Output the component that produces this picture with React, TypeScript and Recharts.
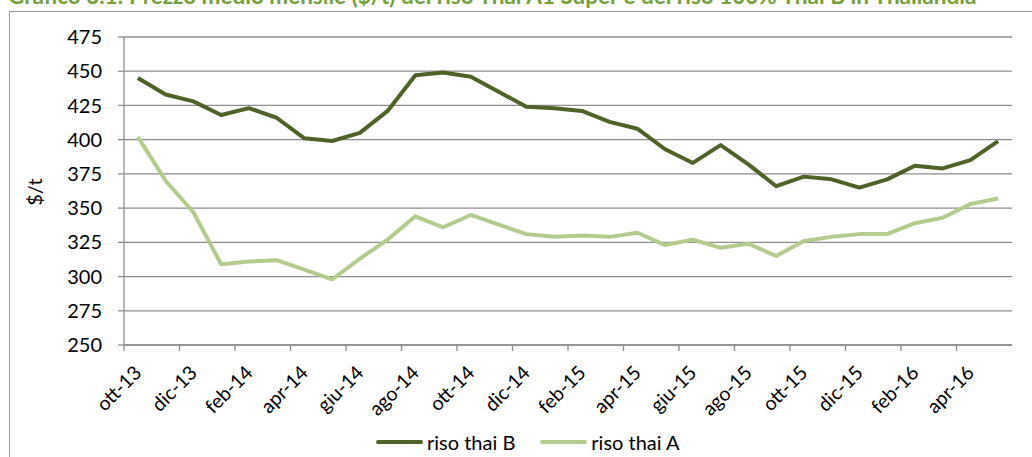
import React from "react";
import {
  LineChart,
  Line,
  XAxis,
  YAxis,
  CartesianGrid,
  Legend,
} from "recharts";

const months = [
  "ott-13", "nov-13", "dic-13", "gen-14", "feb-14", "mar-14", "apr-14", "mag-14",
  "giu-14", "lug-14", "ago-14", "set-14", "ott-14", "nov-14", "dic-14", "gen-15",
  "feb-15", "mar-15", "apr-15", "mag-15", "giu-15", "lug-15", "ago-15", "set-15",
  "ott-15", "nov-15", "dic-15", "gen-16", "feb-16", "mar-16", "apr-16", "mag-16",
];

const thaiB = [
  445, 433, 428, 418, 423, 416, 401, 399, 405, 421, 447, 449, 446, 435, 424, 423,
  421, 413, 408, 393, 383, 396, 382, 366, 373, 371, 365, 371, 381, 379, 385, 399,
];

const thaiA = [
  402, 370, 347, 309, 311, 312, 305, 298, 313, 327, 344, 336, 345, 338, 331, 329,
  330, 329, 332, 323, 327, 321, 324, 315, 326, 329, 331, 331, 339, 343, 353, 357,
];

const yTicks = [250, 275, 300, 325, 350, 375, 400, 425, 450, 475];

const TITLE =
  "Grafico 3.1: Prezzo medio mensile ($/t) del riso Thai A1 Super e del riso 100% Thai B in Thailandia";

const DARK = "#4f6228";
const LIGHT = "#b3cc8e";
const GRID = "#8e8e8e";
const FONT = "Lato, 'Open Sans', sans-serif";

const W = 1032;
const H = 457;
const LEFT = 124;
const RIGHT = 20;
const PLOT_W = W - LEFT - RIGHT;
const HALF = PLOT_W / (months.length * 2);

const data = months.map((m, i) => ({ m, b: thaiB[i], a: thaiA[i] }));

function XTick(props: any) {
  const { x, y, payload, index } = props;
  const last = index === months.length - 2;
  return (
    <g>
      <line x1={x - HALF} y1={y} x2={x - HALF} y2={y + 6} stroke={GRID} strokeWidth={1.3} />
      {last && (
        <line x1={x + 3 * HALF} y1={y} x2={x + 3 * HALF} y2={y + 6} stroke={GRID} strokeWidth={1.3} />
      )}
      <g transform={`translate(${x + 5},${y + 29}) rotate(-45)`}>
        <text x={0} y={0} textAnchor="end" fontSize={19.5} fill="#000" fontFamily={FONT}>
          {payload.value}
        </text>
      </g>
    </g>
  );
}

function LegendBox() {
  const item = (color: string, label: string) => (
    <div style={{ display: "flex", alignItems: "center" }}>
      <div style={{ width: 47, height: 4, background: color, borderRadius: 2, marginRight: 4 }} />
      <span>{label}</span>
    </div>
  );
  return (
    <div
      style={{
        display: "flex",
        gap: 25,
        fontFamily: FONT,
        fontSize: 20,
        color: "#000",
        lineHeight: "24px",
      }}
    >
      {item(DARK, "riso thai B")}
      {item(LIGHT, "riso thai A")}
    </div>
  );
}

export default function App() {
  return (
    <div style={{ position: "absolute", left: 0, top: 0, width: W, height: H, overflow: "hidden", background: "#fff" }}>
      <div
        style={{
          position: "absolute",
          left: 8,
          top: -15.5,
          whiteSpace: "nowrap",
          fontFamily: FONT,
          fontWeight: 700,
          fontSize: 22.5,
          lineHeight: "22.5px",
          color: "#76a03a",
        }}
      >
        {TITLE}
      </div>
      <div
        style={{
          position: "absolute",
          left: 9,
          top: 11,
          width: 1100,
          height: 500,
          border: "1.5px solid #9a9a9a",
        }}
      />
      <div style={{ position: "absolute", left: 0, top: 0 }}>
        <LineChart
          width={W}
          height={H}
          data={data}
          margin={{ top: 37, right: RIGHT, left: 0, bottom: 12 }}
        >
          <CartesianGrid vertical={false} stroke={GRID} strokeWidth={1.3} />
          <XAxis
            dataKey="m"
            interval={1}
            padding={{ left: HALF, right: HALF }}
            tickLine={false}
            tickSize={0}
            tickMargin={0}
            height={100}
            axisLine={{ stroke: GRID, strokeWidth: 1.3 }}
            tick={<XTick />}
          />
          <YAxis
            width={LEFT}
            domain={[250, 475]}
            ticks={yTicks}
            interval={0}
            tickSize={6}
            tickMargin={16}
            tickLine={{ stroke: GRID, strokeWidth: 1.3 }}
            axisLine={{ stroke: GRID, strokeWidth: 1.3 }}
            tick={{ fontSize: 20, fill: "#000", fontFamily: FONT }}
            label={{
              content: () => (
                <text
                  x={34}
                  y={192}
                  transform="rotate(-90 34 192)"
                  textAnchor="middle"
                  dominantBaseline="central"
                  fontSize={20}
                  fontFamily={FONT}
                  fill="#000"
                >
                  $/t
                </text>
              ),
            }}
          />
          <Legend
            verticalAlign="middle"
            align="center"
            layout="horizontal"
            wrapperStyle={{ left: 376, top: 430, width: 330 }}
            content={() => <LegendBox />}
          />
          <Line
            dataKey="b"
            name="riso thai B"
            stroke={DARK}
            strokeWidth={4}
            dot={false}
            strokeLinejoin="round"
            isAnimationActive={false}
          />
          <Line
            dataKey="a"
            name="riso thai A"
            stroke={LIGHT}
            strokeWidth={4}
            dot={false}
            strokeLinejoin="round"
            isAnimationActive={false}
          />
        </LineChart>
      </div>
    </div>
  );
}
